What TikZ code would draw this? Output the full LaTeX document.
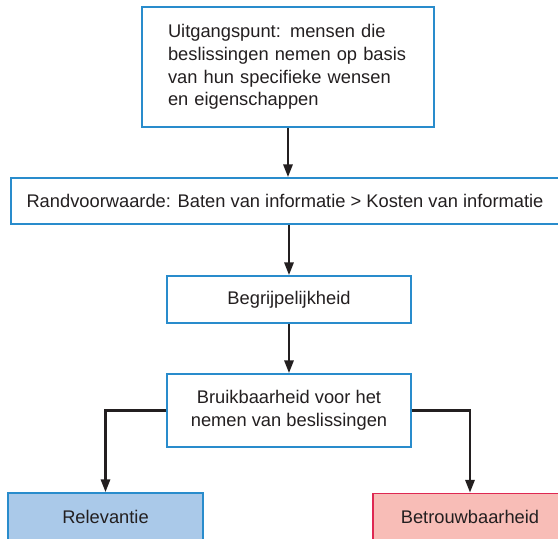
\documentclass[tikz,border=0pt]{standalone}
\usepackage{fontspec}
\setmainfont{Liberation Sans}
\usetikzlibrary{arrows.meta}
\definecolor{boxblue}{RGB}{41,140,204}
\definecolor{relfill}{RGB}{170,201,233}
\definecolor{betfill}{RGB}{248,189,183}
\definecolor{betline}{RGB}{222,40,82}
\definecolor{ink}{RGB}{35,31,32}
\tikzset{
  base/.style={draw=boxblue, line width=1.4pt, fill=white, text=ink, inner sep=0pt,
    font=\fontsize{18.3}{22.6}\selectfont, align=center},
  conn/.style={draw=ink, line width=2.9pt, -{Triangle[length=13pt,width=9pt]}}
}
\begin{document}
\begin{tikzpicture}[x=1pt,y=1pt]
\useasboundingbox (0,0) rectangle (558,-539);
\clip (0,0) rectangle (558,-539);
\node[base, minimum width=292pt, minimum height=120pt, text width=240pt, align=left]
  (top) at (288,-67) {Uitgangspunt: mensen die\\beslissingen nemen op basis\\van hun specifieke wensen\\en eigenschappen};
\node[base, minimum width=548pt, minimum height=46pt] (rand) at (285,-201)
  {Randvoorwaarde: Baten van informatie > Kosten van informatie};
\node[base, minimum width=244pt, minimum height=47pt] (begr) at (289,-299.5) {Begrijpelijkheid};
\node[base, minimum width=244pt, minimum height=73pt] (bruik) at (289,-410.5)
  {Bruikbaarheid voor het\\nemen van beslissingen};
\node[base, fill=relfill, minimum width=195pt, minimum height=47pt] (relev) at (105.5,-516.5) {Relevantie};
\node[base, draw=betline, fill=betfill, minimum width=194pt, minimum height=47pt] (betr) at (470,-517) {Betrouwbaarheid};
\draw[conn] (top.south) -- (top.south |- rand.north);
\draw[conn] (begr.north |- rand.south) -- (begr.north);
\draw[conn] (begr.south) -- (bruik.north);
\draw[conn] (bruik.west) -| (relev.north);
\draw[conn] (bruik.east) -| (betr.north);
\end{tikzpicture}
\end{document}
